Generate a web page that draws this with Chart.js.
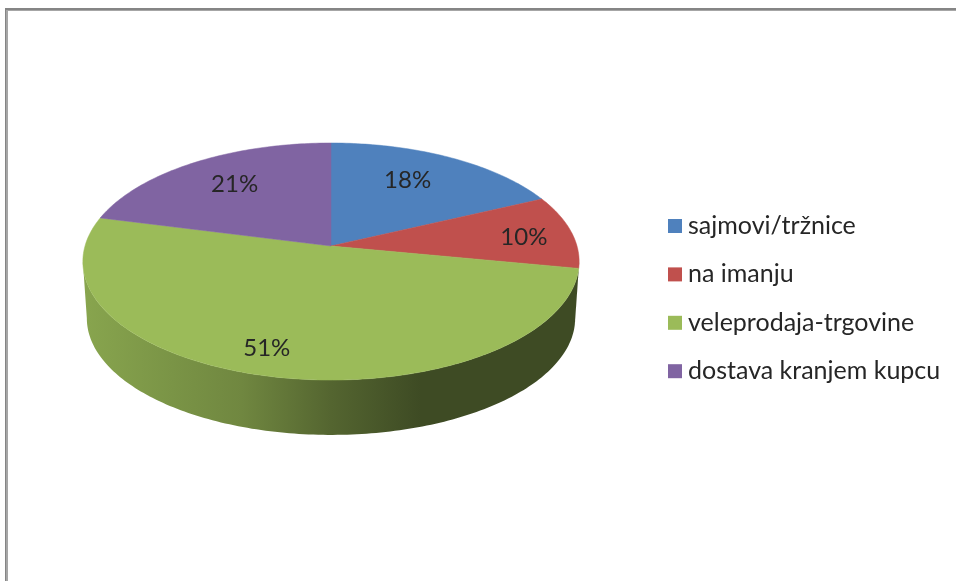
<!DOCTYPE html>
<html>
<head>
<meta charset="utf-8">
<title>Pie</title>
<script src="https://cdn.jsdelivr.net/npm/chart.js@4"></script>
<style>
  body { margin: 0; background: #fff; }
  canvas { display: block; }
</style>
</head>
<body>
<canvas id="pie-chart" width="956" height="581"></canvas>
<script>
const categories = ["sajmovi/tržnice", "na imanju", "veleprodaja-trgovine", "dostava kranjem kupcu"];
const shares = [18, 10, 51, 21];
const colors = ["#4f81bd", "#c0504d", "#9bbb59", "#8064a2"];
// side wall shading, left to right, as a share of the slice colour
const wallStops = [[0, 0.88], [0.18, 0.79], [0.32, 0.72], [0.5, 0.54], [0.68, 0.4], [1, 0.4]];
// Excel put the labels by hand-ish "best fit", so nudge them from the default spot
const labelNudge = [[-9, -2], [24, 1], [-23, 15], [2, -2]];

const TILT = 116.5 / 246; // squash of the disc
const PERSP = 0.131; // near edge is bigger than the far edge
const DEPTH = 57; // how far the bottom disc sits under the top one
const BOTTOM_SCALE = 0.984;
const STEP = Math.PI / 180;

// chart angle on the disc -> point on the screen
function project(el, angle, f, scale, drop) {
  const u = Math.cos(angle) * f;
  const v = Math.sin(angle) * f;
  const w = scale / (1 - PERSP * v);
  return {
    x: el.x + el.outerRadius * u * w,
    y: el.y + drop + el.outerRadius * TILT * v * w,
  };
}

function traceArc(ctx, el, from, to, scale, drop) {
  const dir = to >= from ? 1 : -1;
  const n = Math.ceil(Math.abs(to - from) / STEP);
  for (let i = 0; i <= n; i++) {
    const p = project(el, from + (dir * i * Math.abs(to - from)) / n, 1, scale, drop);
    ctx.lineTo(p.x, p.y);
  }
}

const pie3d = {
  id: "pie3d",
  beforeDraw(chart) {
    const ctx = chart.ctx;
    ctx.save();
    ctx.fillStyle = "#fff";
    ctx.fillRect(0, 0, 956, 581);
    ctx.fillStyle = "#a6a6a6";
    ctx.fillRect(5, 8, 951, 3);
    ctx.fillRect(5, 8, 3, 573);
    ctx.fillStyle = "#858585";
    ctx.fillRect(5, 8, 951, 2);
    ctx.fillRect(5, 8, 1, 573);
    ctx.restore();
  },
  beforeDatasetsDraw(chart) {
    const ctx = chart.ctx;
    const arcs = chart.getDatasetMeta(0).data;
    const c0 = arcs[0];
    // visible part of the rim, right tangent round the front to left tangent
    const frontFrom = Math.asin(PERSP);
    const frontTo = Math.PI - frontFrom;

    ctx.save();
    arcs.forEach((el, i) => {
      // angles come in from -PI/2 up to 3PI/2, the front is 0..PI
      const a = Math.max(el.startAngle, frontFrom);
      const b = Math.min(el.endAngle, frontTo);
      if (b <= a) return;
      const rgb = Chart.helpers.color(colors[i]).rgb;
      const grad = ctx.createLinearGradient(c0.x - 248, 0, c0.x + 248, 0);
      wallStops.forEach(([pos, k]) => {
        grad.addColorStop(pos, `rgb(${rgb.r * k},${rgb.g * k},${rgb.b * k})`);
      });
      ctx.beginPath();
      traceArc(ctx, el, a, b, 1, 0);
      traceArc(ctx, el, b, a, BOTTOM_SCALE, DEPTH);
      ctx.closePath();
      ctx.fillStyle = grad;
      ctx.fill();
    });

    arcs.forEach((el, i) => {
      ctx.beginPath();
      const apex = project(el, 0, 0, 1, 0);
      ctx.moveTo(apex.x, apex.y);
      traceArc(ctx, el, el.startAngle, el.endAngle, 1, 0);
      ctx.closePath();
      ctx.fillStyle = colors[i];
      ctx.strokeStyle = colors[i];
      ctx.lineWidth = 0.5;
      ctx.fill();
      ctx.stroke();
    });

    ctx.font = "24px Lato";
    ctx.fillStyle = "#262626";
    ctx.textAlign = "center";
    ctx.textBaseline = "middle";
    arcs.forEach((el, i) => {
      const p = project(el, (el.startAngle + el.endAngle) / 2, 0.7, 1, 0);
      ctx.fillText(shares[i] + "%", p.x + labelNudge[i][0], p.y + labelNudge[i][1]);
    });

    // legend
    ctx.font = "25px Lato";
    ctx.textAlign = "left";
    categories.forEach((name, i) => {
      const y = 226 + i * 48.4;
      ctx.fillStyle = colors[i];
      ctx.fillRect(668, y - 7, 14, 14);
      ctx.fillStyle = "#262626";
      ctx.fillText(name, 688, y);
    });
    ctx.restore();
    return false;
  },
};

new Chart(document.getElementById("pie-chart").getContext("2d"), {
  type: "pie",
  data: {
    labels: categories,
    datasets: [{ data: shares, backgroundColor: colors, borderWidth: 0 }],
  },
  options: {
    responsive: false,
    animation: false,
    layout: { padding: { left: 85, right: 379, top: 0, bottom: 89 } },
    plugins: {
      legend: { display: false },
      tooltip: { enabled: false },
    },
  },
  plugins: [pie3d],
});
</script>
</body>
</html>
